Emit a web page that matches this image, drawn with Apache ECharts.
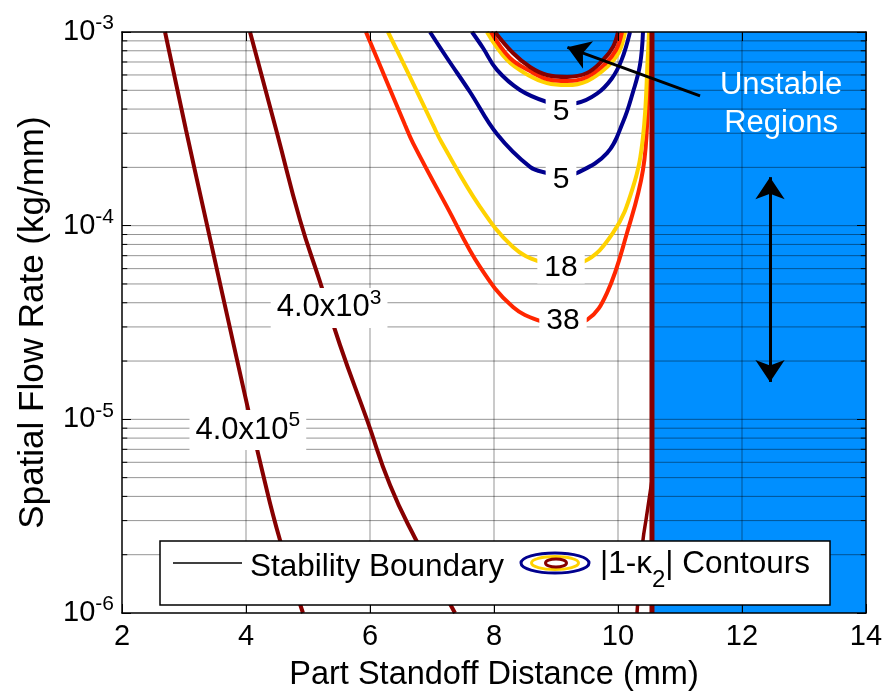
<!DOCTYPE html>
<html><head><meta charset="utf-8">
<script src="https://cdn.jsdelivr.net/npm/echarts@6/dist/echarts.min.js"></script>
<style>html,body{margin:0;padding:0;background:#fff}#c{width:885px;height:696px}</style>
</head><body><div id="c"></div>
<script>
// ---- axis ranges / ticks ----
const xTicks = [2, 4, 6, 8, 10, 12, 14];
const yDecades = [1e-6, 1e-5, 1e-4, 1e-3];
const gridX = [4, 6, 8, 10, 12];

// ---- stability boundary curves [x (mm), flow (kg/mm)] ----
const stabilityA = [[2.694,1e-3],[3.032,3.12e-4],[3.371,1.01e-4],[3.694,3.46e-5],[4.0,1.26e-5],[4.258,5.48e-6],[4.548,2.38e-6],[4.919,1e-6]];
const stabilityB = [[4.065,1e-3],[4.5,3.01e-4],[4.871,1.07e-4],[5.194,5.12e-5],[5.516,2.42e-5],[5.952,9.93e-6],[6.323,4.58e-6],[6.726,2.44e-6],[7.371,1e-6]];
const stabilityVertical = [[10.548,1e-3],[10.548,1e-6]];
const stabilityBranch = [[10.548,4.86e-6],[10.452,3.03e-6],[10.403,2.38e-6],[10.306,1e-6]];
const stabilityU = [[8.016,1e-3],[8.306,7.79e-4],[8.581,6.6e-4],[8.855,6.0e-4],[9.177,5.86e-4],[9.5,6.14e-4],[9.758,7.17e-4],[9.919,8.37e-4],[10.0,1e-3]];

// ---- |1-k2| contours ----
const ringRed = [[7.952,1e-3],[8.258,7.34e-4],[8.581,6.29e-4],[8.855,5.72e-4],[9.177,5.58e-4],[9.5,5.86e-4],[9.79,6.84e-4],[9.968,8.07e-4],[10.065,1e-3]];
const ringYellow = [[7.887,1e-3],[8.21,7.17e-4],[8.548,6.0e-4],[8.855,5.45e-4],[9.177,5.32e-4],[9.5,5.58e-4],[9.823,6.6e-4],[10.016,7.88e-4],[10.113,1e-3]];
const contour5Inner = [[7.645,1e-3],[7.823,8.27e-4],[8.048,6.37e-4],[8.419,5.02e-4],[8.855,4.35e-4],[9.097,4.25e-4],[9.339,4.3e-4],[9.661,4.8e-4],[9.9,5.75e-4],[10.06,7.2e-4],[10.194,1e-3]];
const contour5Outer = [[6.968,1e-3],[7.242,7.34e-4],[7.613,4.9e-4],[8.048,2.97e-4],[8.581,2.01e-4],[8.855,1.87e-4],[9.097,1.81e-4],[9.339,1.87e-4],[9.823,2.37e-4],[10.081,3.43e-4],[10.242,4.9e-4],[10.355,6.76e-4],[10.403,1e-3]];
const contour18 = [[6.29,1e-3],[6.629,6.0e-4],[7.016,3.31e-4],[7.161,2.67e-4],[7.774,1.25e-4],[8.306,7.76e-5],[8.742,6.5e-5],[9.097,6.27e-5],[9.435,6.5e-5],[9.919,9.17e-5],[10.242,1.58e-4],[10.403,2.87e-4],[10.484,7.79e-4],[10.5,1e-3]];
const contour38 = [[5.935,1e-3],[6.226,6.0e-4],[6.565,3.31e-4],[6.694,2.67e-4],[7.242,1.25e-4],[7.774,6.12e-5],[8.306,3.80e-5],[8.79,3.18e-5],[9.097,3.07e-5],[9.5,3.26e-5],[9.823,4.5e-5],[10.145,9.17e-5],[10.403,1.94e-4],[10.484,4.30e-4],[10.516,9.42e-4],[10.52,1e-3]];

// ---- unstable region ----
const unstableX = [10.575, 14];

// ---- labels ----
const contourLabels = [['5',9.081,3.86e-4],['5',9.081,1.72e-4],['18',9.081,6.05e-5],['38',9.113,3.22e-5]];
const boundaryLabels = [['4.0x10','5',4.03,8.8e-6],['4.0x10','3',5.34,3.76e-5]];
const unstableLabel = ['Unstable\nRegions', 12.63, 4.25e-4];
const arrowToU = [[11.323,4.68e-4],[9.184,8.33e-4]];
const doubleArrow = [[12.452,1.78e-4],[12.452,1.56e-5]];

const FONT = 'Arial, "Liberation Sans", sans-serif';
const DARKRED = '#860000', RED = '#FF2600', YELLOW = '#FFD200', NAVY = '#00008E', BLUE = '#008FFF';
const GRIDC = 'rgba(0,0,0,0.42)';

const minorY = [];
for (const d of [1e-6, 1e-5, 1e-4]) for (let m = 2; m <= 9; m++) minorY.push(+(m * d).toPrecision(3));
const hLines = minorY.concat([1e-5, 1e-4]);

function curve(name, data, color, width, z, smooth) {
  return {type:'line', name, data, smooth: smooth == null ? 0.4 : smooth, symbol:'none', showSymbol:false,
    lineStyle:{color, width}, z, silent:true, animation:false, clip:true};
}
function seg(data, color, width, z) {
  return {type:'line', data, smooth:false, symbol:'none', showSymbol:false,
    lineStyle:{color, width, type:'solid'}, z, silent:true, animation:false, clip:false};
}

const chart = echarts.init(document.getElementById('c'), null, {renderer:'canvas', width:885, height:696});

const tickL = 0.085;
const gridSeries = hLines.map(v => seg([[2, v], [14, v]], GRIDC, 1, 2))
  .concat(gridX.map(v => seg([[v, 1e-6], [v, 1e-3]], GRIDC, 1, 2)));
const tickSeries = [];
minorY.forEach(v => {
  tickSeries.push(seg([[2, v], [2 + tickL, v]], '#000', 1, 9));
  tickSeries.push(seg([[14 - tickL, v], [14, v]], '#000', 1, 9));
});

const ctx = document.createElement('canvas').getContext('2d');
function tw(s, size) { ctx.font = size + 'px ' + FONT; return ctx.measureText(s).width; }

const LF = 31.5;
const lx = 600, ly = 564;
const w1 = tw('|1-κ', LF), w2 = tw('2', 24);
const HIDE = {color:'rgba(0,0,0,0)', opacity:1};

const option = {
  animation: false,
  backgroundColor: '#fff',
  grid: {left:122, right:19, top:32, bottom:83, containLabel:false, outerBoundsMode:'none'},
  xAxis: [
    {type:'value', min:2, max:14, interval:2, position:'bottom', z:10,
     axisLine:{show:true, onZero:false, lineStyle:{color:'#000', width:1.5}},
     axisTick:{show:true, inside:true, length:9, lineStyle:{color:'#000'}},
     axisLabel:{show:true, color:'#000', fontSize:29, fontFamily:FONT, margin:9},
     splitLine:{show:false},
     name:'Part Standoff Distance (mm)', nameLocation:'middle', nameGap:46,
     nameTextStyle:{color:'#000', fontSize:32.5, fontFamily:FONT}},
    {type:'value', min:2, max:14, interval:2, position:'top', z:10,
     axisLine:{show:true, onZero:false, lineStyle:{color:'#000', width:1.5}},
     axisTick:{show:true, inside:true, length:9, lineStyle:{color:'#000'}},
     axisLabel:{show:false}, splitLine:{show:false}}
  ],
  yAxis: [
    {type:'log', logBase:10, min:1e-6, max:1e-3, position:'left', z:10,
     axisLine:{show:true, onZero:false, lineStyle:{color:'#000', width:1.5}},
     axisTick:{show:true, inside:true, length:9, lineStyle:{color:'#000'}},
     axisLabel:{show:true, margin:8, formatter: v => '{b|10}{s|' + Math.round(Math.log10(v)) + '}',
       rich:{b:{fontSize:29, fontFamily:FONT, color:'#000', lineHeight:38},
             s:{fontSize:21, fontFamily:FONT, color:'#000', lineHeight:16, verticalAlign:'top'}}},
     splitLine:{show:false}, minorTick:{show:false},
     name:'Spatial Flow Rate (kg/mm)', nameLocation:'middle', nameGap:71,
     nameTextStyle:{color:'#000', fontSize:35, fontFamily:FONT}},
    {type:'log', logBase:10, min:1e-6, max:1e-3, position:'right', z:10,
     axisLine:{show:true, onZero:false, lineStyle:{color:'#000', width:1.5}},
     axisTick:{show:true, inside:true, length:9, lineStyle:{color:'#000'}},
     axisLabel:{show:false}, splitLine:{show:false}}
  ],
  series: [
    // unstable blue region (right)
    {type:'line', data:[[unstableX[0],1e-6]], symbol:'none', lineStyle:{opacity:0}, silent:true, z:1,
     markArea:{silent:true, z:1, itemStyle:{color:BLUE, opacity:1},
       data:[[{xAxis:unstableX[0], yAxis:1e-6},{xAxis:unstableX[1], yAxis:1e-3}]]}},
    // unstable U region at top
    {type:'line', data:stabilityU, smooth:0.4, symbol:'none', lineStyle:{width:0, opacity:0},
     areaStyle:{color:BLUE, opacity:1, origin:'end'}, z:1, silent:true},
    ...gridSeries,
    ...tickSeries,
    curve('contour38', contour38, RED, 4, 4),
    curve('contour18', contour18, YELLOW, 4, 4),
    curve('contour5outer', contour5Outer, NAVY, 4, 4),
    curve('contour5inner', contour5Inner, NAVY, 4, 4),
    curve('ringYellow', ringYellow, YELLOW, 4, 4),
    curve('ringRed', ringRed, RED, 4, 4),
    curve('stabilityU', stabilityU, DARKRED, 4, 5),
    curve('stabilityA', stabilityA, DARKRED, 4, 5, 0.5),
    curve('stabilityB', stabilityB, DARKRED, 4, 5, 0.5),
    curve('stabilityBranch', stabilityBranch, DARKRED, 3.5, 5),
    curve('stabilityVertical', stabilityVertical, DARKRED, 5, 5, false),
    // contour labels
    {type:'scatter', symbolSize:1, itemStyle:HIDE, z:8, silent:true,
     data: contourLabels.map(l => ({value:[l[1], l[2]], label:{formatter:l[0]}})),
     label:{show:true, position:'inside', color:'#000', opacity:1, fontSize:30, fontFamily:FONT,
       backgroundColor:'#fff', padding:[1,7,0,7]}},
    // boundary labels
    {type:'scatter', symbolSize:1, itemStyle:HIDE, z:8, silent:true,
     data: boundaryLabels.map(l => ({value:[l[2], l[3]], label:{formatter:'{a|' + l[0] + '}{s|' + l[1] + '}'}})),
     label:{show:true, position:'inside', opacity:1, backgroundColor:'#fff', padding:[0,6,0,6],
       rich:{a:{fontSize:31, fontFamily:FONT, color:'#000', lineHeight:40},
             s:{fontSize:21, fontFamily:FONT, color:'#000', lineHeight:22, verticalAlign:'top'}}}},
    // unstable regions text + arrows
    {type:'scatter', symbolSize:1, itemStyle:HIDE, z:8, silent:true,
     data:[{value:[unstableLabel[1], unstableLabel[2]], label:{formatter:unstableLabel[0]}}],
     label:{show:true, position:'inside', color:'#fff', opacity:1, fontSize:31, lineHeight:38, fontFamily:FONT, align:'center'},
     markLine:{silent:true, z:8, animation:false, precision:12, label:{show:false},
       lineStyle:{color:'#000', width:3, type:'solid', opacity:1},
       data:[
         [{coord:arrowToU[0], symbol:'none'}, {coord:arrowToU[1], symbol:'arrow', symbolSize:22}],
         [{coord:doubleArrow[0], symbol:'arrow', symbolSize:22}, {coord:doubleArrow[1], symbol:'arrow', symbolSize:22}]
       ]}}
  ],
  graphic: [
    {type:'rect', z:100, shape:{x:160, y:541, width:670, height:64}, style:{fill:'#fff', stroke:'#000', lineWidth:1.5}},
    {type:'line', z:101, shape:{x1:173, y1:563, x2:242, y2:563}, style:{stroke:'#000', lineWidth:1.5}},
    {type:'text', z:101, x:250, y:567, style:{text:'Stability Boundary', font:LF + 'px ' + FONT, fill:'#000', verticalAlign:'middle'}},
    {type:'ellipse', z:101, shape:{cx:555, cy:563, rx:34, ry:10}, style:{fill:null, stroke:NAVY, lineWidth:3}},
    {type:'ellipse', z:101, shape:{cx:555, cy:563, rx:23.5, ry:6.5}, style:{fill:null, stroke:YELLOW, lineWidth:3}},
    {type:'ellipse', z:101, shape:{cx:556, cy:563, rx:10.5, ry:4}, style:{fill:null, stroke:DARKRED, lineWidth:3}},
    {type:'text', z:101, x:lx, y:ly, style:{text:'|1-κ', font:LF + 'px ' + FONT, fill:'#000', verticalAlign:'middle'}},
    {type:'text', z:101, x:lx + w1, y:ly + 16, style:{text:'2', font:'24px ' + FONT, fill:'#000', verticalAlign:'middle'}},
    {type:'text', z:101, x:lx + w1 + w2, y:ly, style:{text:'| Contours', font:LF + 'px ' + FONT, fill:'#000', verticalAlign:'middle'}}
  ]
};
chart.setOption(option);
</script>
</body></html>
